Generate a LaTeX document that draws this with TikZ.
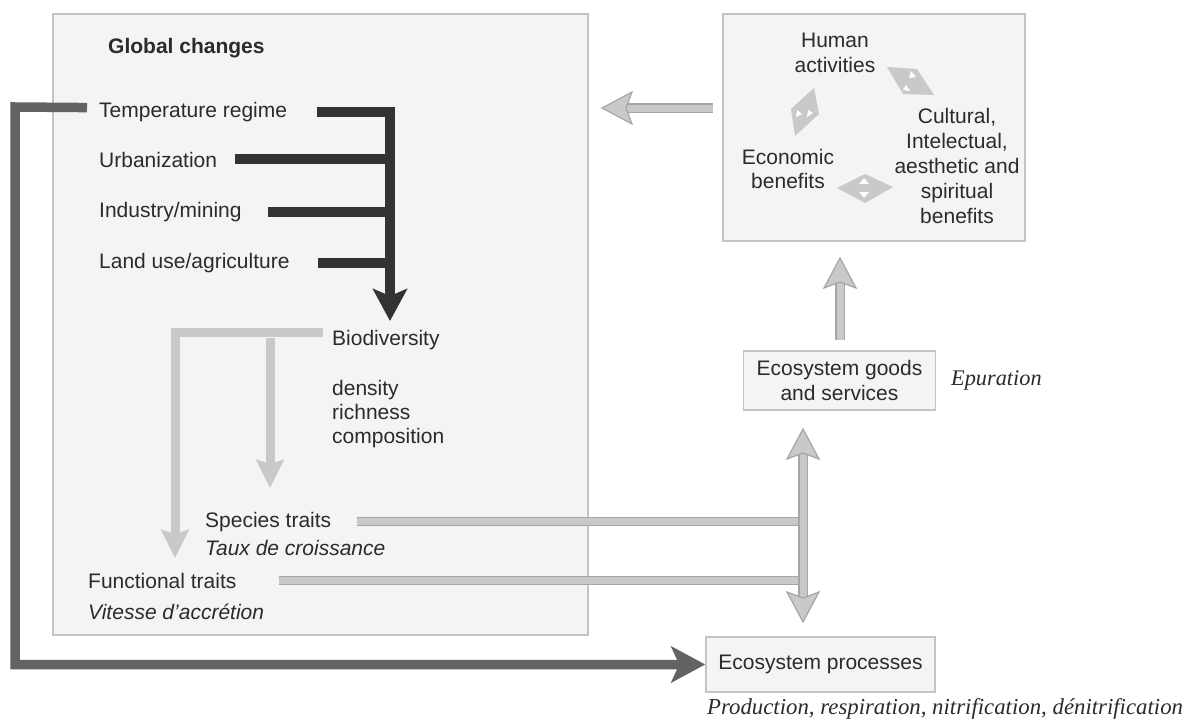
\documentclass[tikz,border=0pt]{standalone}
\usepackage{fontspec}
\setmainfont{Liberation Sans}
\newfontfamily\timesf{Liberation Serif}
\usetikzlibrary{arrows.meta,calc}
\definecolor{boxfill}{HTML}{F3F4F4}
\definecolor{boxline}{HTML}{C4C4C4}
\definecolor{txt}{HTML}{2B2B2B}
\definecolor{darkc}{HTML}{333333}
\definecolor{midg}{HTML}{636363}
\definecolor{lg}{HTML}{C9C9C9}
\definecolor{lgo}{HTML}{A6A6A6}
\tikzset{
  lbl/.style={anchor=base west, inner sep=0pt, text=txt},
  ctr/.style={align=center, inner sep=0pt, text=txt},
  panel/.style={draw=boxline, fill=boxfill, line width=1.5pt, inner sep=0pt},
  darkline/.style={draw=darkc, line width=10pt},
  midline/.style={draw=midg, line width=9.5pt},
  lgline/.style={draw=lg, line width=9pt},
  dblline/.style={double=lg, double distance=7pt, draw=lgo, line width=1.2pt},
  ghead/.pic={\filldraw[fill=lg, draw=lgo, line width=1.2pt] (0,0) -- (-30,-16) -- (-24,0) -- (-30,16) -- cycle;},
  diam/.style={fill=lg, draw=none},
  wtri/.style={fill=white, draw=none},
}
\begin{document}
\begin{tikzpicture}[x=1pt, y=-1pt, font=\fontsize{21}{25}\selectfont]
\useasboundingbox (0,0) rectangle (1184,720);
\fill[white] (0,0) rectangle (1184,720);

% panels
\node[panel, minimum width=535pt, minimum height=621pt] (big) at (320.5,324.5) {};
\node[panel, minimum width=302pt, minimum height=227pt] (hbox) at (874,127.5) {};
\node[panel, minimum width=192pt, minimum height=59pt] (goods) at (839.5,380.5) {};
\node[panel, minimum width=229pt, minimum height=55pt] (proc) at (820.5,664.5) {};

% texts in big panel
\node[lbl, font=\fontsize{21}{25}\selectfont\bfseries] (gc) at (108,53) {Global changes};
\node[lbl] (temp) at (99,117) {Temperature regime};
\node[lbl] (urb) at (99,167) {Urbanization};
\node[lbl] (ind) at (99,217) {Industry/mining};
\node[lbl] (land) at (99,268) {Land use/agriculture};
\node[lbl] (bio) at (332,345) {Biodiversity};
\node[lbl, anchor=west, align=left, font=\fontsize{21}{24}\selectfont] (dens) at (332,414) {density\\richness\\composition};
\node[lbl] (spec) at (205,527) {Species traits};
\node[lbl, font=\fontsize{21}{25}\selectfont\itshape] (taux) at (205,555) {Taux de croissance};
\node[lbl] (func) at (88,588) {Functional traits};
\node[lbl, font=\fontsize{21}{25}\selectfont\itshape] (vit) at (88,619) {Vitesse d’accrétion};

% texts in human box
\node[ctr] (human) at (835,53) {Human\\activities};
\node[ctr] (cult) at (957,166) {Cultural,\\Intelectual,\\aesthetic and\\spiritual\\benefits};
\node[ctr, font=\fontsize{21}{24}\selectfont] (econ) at (788,169) {Economic\\benefits};

% goods, processes
\node[ctr] (goodst) at (goods.center) {Ecosystem goods\\and services};
\node[ctr] (proct) at (proc.center) {Ecosystem processes};
\node[lbl, font=\fontsize{22.3}{26}\selectfont\timesf\itshape] (epur) at (951,385) {Epuration};
\node[lbl, font=\fontsize{22.8}{26}\selectfont\timesf\itshape] (prodt) at (707,714) {Production, respiration, nitrification, dénitrification};

% diamonds (double arrows) in human box
\fill[diam] (887,67) -- (917,69) -- (934,95) -- (903,94) -- cycle;
\fill[wtri] (911,71) -- (916,77) -- (909,78) -- cycle;
\fill[wtri] (906,85) -- (910,91) -- (903,90) -- cycle;
\fill[diam] (814,88) -- (819,114) -- (795,136) -- (791,109) -- cycle;
\fill[wtri] (797,110) -- (802,114) -- (796,117) -- cycle;
\fill[wtri] (808,110) -- (813,113) -- (807,117) -- cycle;
\fill[diam] (837,188) -- (865,174) -- (893,187) -- (865,203) -- cycle;
\fill[wtri] (864,178) -- (869,184) -- (859,184) -- cycle;
\fill[wtri] (859,192) -- (869,192) -- (864,198) -- cycle;

% coordinates
\coordinate (dtip) at (390,321);
\coordinate (lc) at (15,107);
\coordinate (bj) at (270,338);
\coordinate (btip) at (270,488);
\coordinate (ftip) at (175,558);
\coordinate (vx) at (803,500);
\coordinate (vtop) at (803,429);
\coordinate (vbot) at (803,622);
\coordinate (vtopb) at (803,450);
\coordinate (vbotb) at (803,601);
\coordinate (ltip) at (602,108);
\coordinate (lstart) at (713,108);
\coordinate (lend) at (624,108);
\coordinate (utip) at (840,258);
\coordinate (ustart) at (840,340);
\coordinate (uend) at (840,280);

% dark global change arrows
\draw[darkline] ([xshift=18pt]urb.east) -- (urb.east -| dtip);
\draw[darkline] ([xshift=26pt]ind.east) -- (ind.east -| dtip);
\draw[darkline] ([xshift=28pt]land.east) -- (land.east -| dtip);
\draw[darkline, -{Stealth[length=32pt, width=34pt, inset=7pt]}] ([xshift=30pt]temp.east) -| (dtip);

% temperature to processes
\draw[midline, -{Stealth[length=34pt, width=36pt, inset=8pt]}] ([xshift=-12pt, yshift=4pt]temp.west) -- (lc) |- (proc.west);

% biodiversity arrows
\draw[lgline, -{Stealth[length=28pt, width=27pt, inset=4pt]}] (bj) -- (btip);
\draw[lgline, -{Stealth[length=28pt, width=27pt, inset=4pt]}] ([xshift=-9pt, yshift=7pt]bio.west) -| (ftip);

% traits to double vertical arrow
\draw[dblline] ([xshift=26pt]spec.east) -- (spec.east -| vx);
\draw[dblline] ([xshift=42pt]func.east) -- (func.east -| vx);
\draw[dblline] (vtopb) -- (vbotb);
\pic[rotate=90] at (vtop) {ghead};
\pic[rotate=-90] at (vbot) {ghead};

% goods to human box
\draw[dblline] (ustart) -- (uend);
\pic[rotate=90] at (utip) {ghead};

% human box to global changes
\draw[dblline] (lstart) -- (lend);
\pic[rotate=180] at (ltip) {ghead};
\end{tikzpicture}
\end{document}
